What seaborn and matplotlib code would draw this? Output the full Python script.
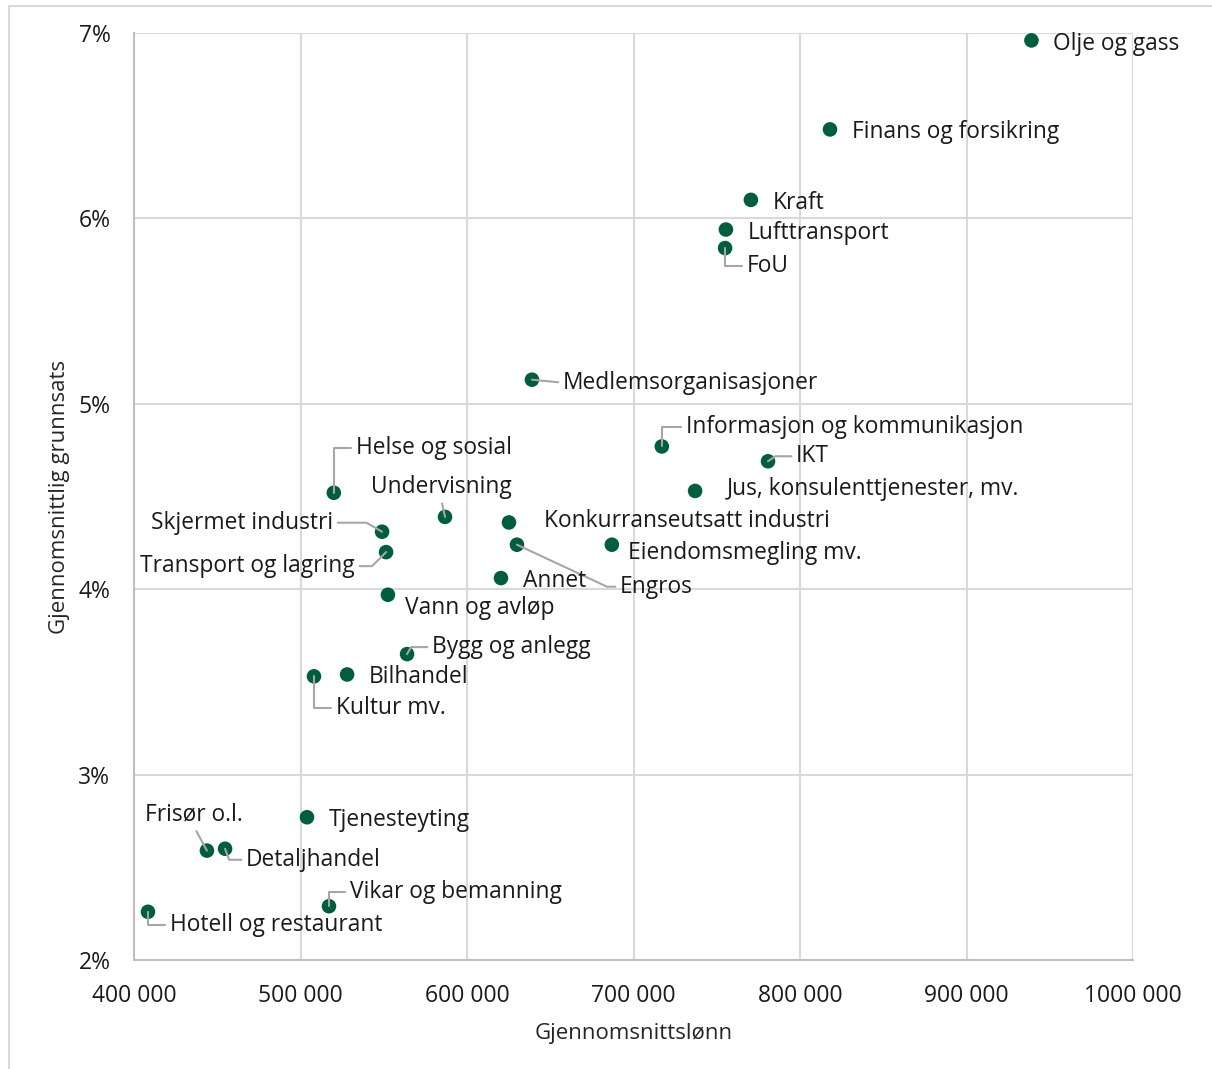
import matplotlib
matplotlib.use("Agg")
import matplotlib.pyplot as plt
import seaborn as sns
import pandas as pd
from matplotlib.lines import Line2D

# Bransjer: gjennomsnittslønn og gjennomsnittlig grunnsats (%)
bransje = ["Olje og gass", "Finans og forsikring", "Kraft", "Lufttransport", "FoU",
           "Medlemsorganisasjoner", "Informasjon og kommunikasjon", "IKT",
           "Jus, konsulenttjenester, mv.", "Helse og sosial", "Undervisning",
           "Konkurranseutsatt industri", "Skjermet industri", "Engros",
           "Eiendomsmegling mv.", "Transport og lagring", "Annet", "Vann og avløp",
           "Bygg og anlegg", "Bilhandel", "Kultur mv.", "Tjenesteyting",
           "Frisør o.l.", "Detaljhandel", "Vikar og bemanning", "Hotell og restaurant"]
lonn = [939000, 818000, 770500, 755500, 755000,
        639000, 717000, 780800,
        737000, 520000, 586800,
        625200, 549000, 630000,
        687000, 551400, 620400, 552500,
        564000, 528000, 508100, 503900,
        443800, 454700, 517100, 408400]
grunnsats = [6.96, 6.48, 6.10, 5.94, 5.84,
             5.13, 4.77, 4.69,
             4.53, 4.52, 4.39,
             4.36, 4.31, 4.24,
             4.24, 4.20, 4.06, 3.97,
             3.65, 3.54, 3.53, 2.77,
             2.59, 2.60, 2.29, 2.26]

xticks = [400000, 500000, 600000, 700000, 800000, 900000, 1000000]
xtick_labels = ["400 000", "500 000", "600 000", "700 000", "800 000", "900 000", "1000 000"]
yticks = [2, 3, 4, 5, 6, 7]
ytick_labels = ["2%", "3%", "4%", "5%", "6%", "7%"]

df = pd.DataFrame({"bransje": bransje, "lonn": lonn, "grunnsats": grunnsats})

# label placement: offset in pixels, alignment, leader style (None = no leader)
# leader: ("angle", angleA, angleB, relpos) or ("line", relpos)
place = {
    "Olje og gass": (22, -4, "left", None),
    "Finans og forsikring": (22, -3, "left", None),
    "Kraft": (22, -3, "left", None),
    "Lufttransport": (22, -3, "left", None),
    "FoU": (22, -18, "left", ("angle", 0, 90, (0, 0.5))),
    "Medlemsorganisasjoner": (31, -3, "left", ("line", (0, 0.5))),
    "Informasjon og kommunikasjon": (24, 19, "left", ("angle", 0, 90, (0, 0.5))),
    "IKT": (28, 5, "left", ("angle", 0, 35, (0, 0.5))),
    "Jus, konsulenttjenester, mv.": (32, 2, "left", None),
    "Helse og sosial": (22, 45, "left", ("angle", 0, 90, (0, 0.5))),
    "Undervisning": (-4, 30, "center", ("line", (0.5, 0))),
    "Konkurranseutsatt industri": (35, 1, "left", None),
    "Skjermet industri": (-49, 9, "right", ("angle", 0, -30, (1, 0.5))),
    "Engros": (103, -42, "left", ("angle", 0, -25, (0, 0.5))),
    "Eiendomsmegling mv.": (16, -8, "left", None),
    "Transport og lagring": (-31, -14, "right", ("angle", 0, 45, (1, 0.5))),
    "Annet": (22, -3, "left", None),
    "Vann og avløp": (17, -13, "left", None),
    "Bygg og anlegg": (25, 7, "left", ("angle", 0, 60, (0, 0.5))),
    "Bilhandel": (22, -3, "left", None),
    "Kultur mv.": (22, -32, "left", ("angle", 0, 90, (0, 0.5))),
    "Tjenesteyting": (22, -3, "left", None),
    "Frisør o.l.": (-13, 36, "center", ("line", (0.5, 0))),
    "Detaljhandel": (21, -11, "left", ("angle", 0, -70, (0, 0.5))),
    "Vikar og bemanning": (21, 14, "left", ("angle", 0, 90, (0, 0.5))),
    "Hotell og restaurant": (22, -13, "left", ("angle", 0, 90, (0, 0.5))),
}

sns.set_style("white")
plt.rcParams["font.family"] = ["Open Sans", "DejaVu Sans"]

fig = plt.figure(figsize=(12.12, 10.69), dpi=100)
ax = fig.add_axes([134 / 1212, 1 - 960 / 1069, (1133 - 134) / 1212, (960 - 33) / 1069])

sns.scatterplot(data=df, x="lonn", y="grunnsats", ax=ax, color="#005E3C",
                s=110, edgecolor="none", zorder=3, clip_on=False)

grid_c = "#d9d9d9"
ax.set_xlim(400000, 1000000)
ax.set_ylim(2, 7)
ax.set_xticks(xticks)
ax.set_xticklabels(xtick_labels)
ax.set_yticks(yticks)
ax.set_yticklabels(ytick_labels)
ax.grid(True, color=grid_c, linewidth=1.5)
ax.set_axisbelow(True)
for side in ["top", "right"]:
    ax.spines[side].set_visible(False)
for side in ["left", "bottom"]:
    ax.spines[side].set_color("#bfbfbf")
    ax.spines[side].set_linewidth(1.5)
ax.tick_params(axis="both", length=0, labelsize=16.5, labelcolor="#1a1a1a")
ax.tick_params(axis="x", pad=17)
ax.tick_params(axis="y", pad=17)
ax.set_xlabel("Gjennomsnittslønn", fontsize=16, color="#262626", labelpad=11)
ax.set_ylabel("Gjennomsnittlig grunnsats", fontsize=16, color="#262626", labelpad=6)

for name, x, y in zip(bransje, lonn, grunnsats):
    dx, dy, ha, lead = place[name]
    kw = {}
    if lead is not None:
        if lead[0] == "angle":
            cs = f"angle,angleA={lead[1]},angleB={lead[2]},rad=0"
            relpos = lead[3]
        else:
            cs = "arc3,rad=0"
            relpos = lead[1]
        kw["arrowprops"] = dict(arrowstyle="-", color="#a6a6a6", lw=1.5,
                                connectionstyle=cs, relpos=relpos,
                                shrinkA=1, shrinkB=0)
    ax.annotate(name, xy=(x, y), xytext=(dx, dy), textcoords="offset pixels",
                ha=ha, va="center", fontsize=16.4, color="#1a1a1a",
                annotation_clip=False, zorder=4, **kw)

# thin frame around the chart area (top and left visible)
fig.add_artist(Line2D([8.5 / 1212, 1], [1 - 5.5 / 1069] * 2, color="#d9d9d9", lw=1.5))
fig.add_artist(Line2D([8.5 / 1212] * 2, [0, 1 - 5.5 / 1069], color="#d9d9d9", lw=1.5))

plt.savefig("out.png", dpi=100)
